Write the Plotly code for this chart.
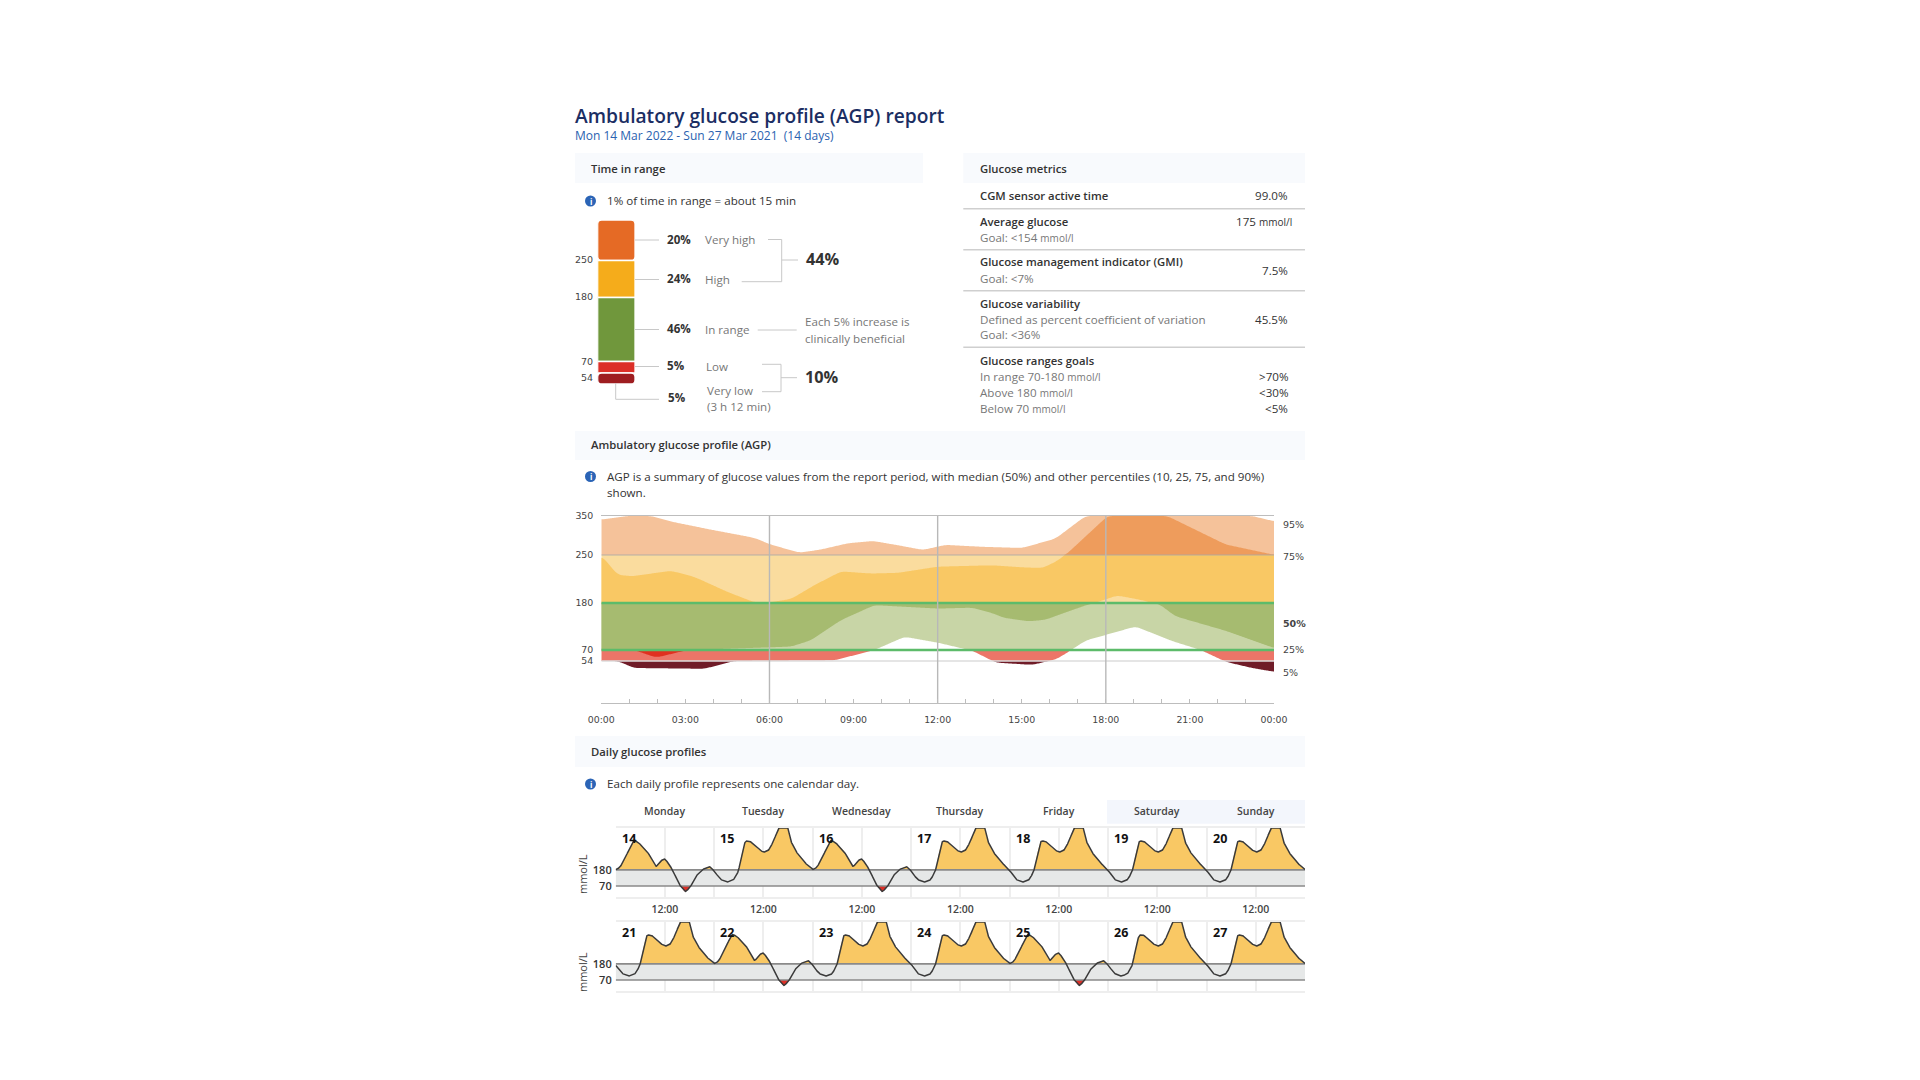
import numpy as np
import plotly.graph_objects as go

FONT = "Open Sans"
AXFONT = "DejaVu Sans"

# ---- AGP percentile curves (hour, units as printed on the axis) ----
P95_H = [0, .9, 1.74, 2.57, 3.88, 5.43, 6, 7.04, 7.8, 8.76, 9.66, 10.55, 11.44, 12.25, 13.56, 14.98, 16.17, 17.24, 23.19, 24]
P95_V = [341, 350, 350, 334, 315, 294, 277, 256, 264, 280, 286, 275, 263, 276, 271, 268, 292, 350, 350, 336]
P75_H = [0, .55, 1.08, 2.45, 3.29, 4.48, 5.43, 6, 6.74, 7.57, 8.52, 9.6, 10.55, 11.98, 13.91, 14.98, 15.7, 16.17, 16.53, 18.03, 20.16, 22.24, 24]
P75_V = [248, 221, 219, 227, 218, 196, 181, 181, 186, 206, 226, 223, 224, 233, 235, 232, 231, 240, 250, 350, 350, 277, 250]
P25_H = [0, 1.14, 1.92, 3.05, 4.95, 6.74, 7.45, 8.52, 9.71, 10.55, 11.98, 13.2, 14.03, 14.27, 15.22, 15.82, 16.53, 17.36, 18.37, 19.15, 19.86, 20.45, 22.24, 24]
P25_V = [70, 70, 59, 70, 74, 78, 93, 140, 175, 172, 167, 169, 154, 146, 137, 141, 158, 177, 191, 185, 178, 149, 115, 74]
P05_H = [0, .55, 1.14, 3.64, 4.71, 8.29, 9.71, 10.79, 11.98, 12.96, 13.2, 14.03, 15.34, 16.17, 16.71, 17.24, 19.03, 20.33, 21.4, 22.24, 23.19, 24]
P05_V = [54, 54, 45, 44, 54, 55, 70, 101, 87, 72, 69, 52, 49, 56, 69, 92, 125, 91, 69, 53, 45, 40]

AGP_Y_TICKS = [350, 250, 180, 70, 54]
AGP_X_LABELS = ["00:00", "03:00", "06:00", "09:00", "12:00", "15:00", "18:00", "21:00", "00:00"]
AGP_PCT_LABELS = ["95%", "75%", "50%", "25%", "5%"]

ZONE_EDGES = [(250, 350), (180, 250), (70, 180), (54, 70), (0, 54)]
ZONE_OUTER = ["#F5C29A", "#FADC9E", "#C8D5A6", "#EC7568", "#701C28"]
ZONE_INNER = ["#EE9C5C", "#F9C864", "#A6BB70", "#E03020", "#701C28"]

# ---- Time in range bar ----
TIR_BOUNDS = [350, 250, 180, 70, 54, 40]
TIR_COLORS = ["#E56A25", "#F5AC1B", "#70973C", "#DC3028", "#9E1D20"]
TIR_PCT = ["20%", "24%", "46%", "5%", "5%"]
TIR_NAME = ["Very high", "High", "In range", "Low"]

# ---- Daily profiles: two repeating day shapes ----
DAY_A_H = [0, 1.06, 2.28, 4.31, 5.53, 7.72, 8.78, 9.84, 10.8, 11.87, 12.85, 14.07, 15.28, 16.91, 18.13, 19.35, 20.98, 22.85, 24]
DAY_A_V = [180, 198, 260, 385, 368, 306, 249, 198, 237, 258, 226, 169, 88, 28, 60, 130, 180, 205, 173]
DAY_B_H = [0, 1.46, 3.09, 4.72, 5.93, 6.75, 7.56, 8.78, 10.4, 12.03, 13.25, 14.47, 15.69, 16.1, 17.72, 18.54, 19.76, 21.79, 24]
DAY_B_V = [173, 116, 95, 111, 169, 294, 378, 376, 329, 300, 313, 375, 470, 500, 500, 386, 313, 237, 180]
ROW1_DAYS = [14, 15, 16, 17, 18, 19, 20]
ROW2_DAYS = [21, 22, 23, 24, 25, 26, 27]
ROW1_SHAPE = "ABABBBB"
ROW2_SHAPE = "BABBABB"
WEEKDAYS = ["Monday", "Tuesday", "Wednesday", "Thursday", "Friday", "Saturday", "Sunday"]
LIMITS = [180, 70]


def px(x): return x / 1920
def py(y): return 1 - y / 1080


def smooth(h, v, grid, win):
    raw = np.interp(grid, h, v)
    n = max(1, int(round(win / (grid[1] - grid[0]))))
    k = np.ones(n) / n
    for _ in range(2):
        raw = np.convolve(np.pad(raw, n, mode="edge"), k, mode="same")[n:-n]
    return raw


def agp_pos(v):
    return np.interp(v, [0, 54, 70, 180, 250, 350], [0, 42, 53, 100, 148, 187])


def tir_pos(v):
    return np.interp(v, [40, 54, 70, 180, 250, 350], [0, 11, 22.5, 86.5, 123.5, 164])


fig = go.Figure()
ann, shapes = [], []


def T(x, y, text, size=11.6, color="#333333", anchor="left", weight=400, family=FONT, angle=0, dy=-.8):
    ann.append(dict(x=px(x), y=py(y + dy), xref="paper", yref="paper", text=text, showarrow=False,
                    xanchor=anchor, yanchor="middle", borderpad=0, borderwidth=0, textangle=angle,
                    font=dict(size=size, color=color, family=family, weight=weight)))


def L(x0, y0, x1, y1, color="#C8C8C8", width=1):
    shapes.append(dict(type="line", xref="paper", yref="paper", x0=px(x0), y0=py(y0), x1=px(x1), y1=py(y1),
                       line=dict(color=color, width=width)))


def panel(x0, y0, x1, y1, color="#F8FAFD"):
    shapes.append(dict(type="rect", xref="paper", yref="paper", x0=px(x0), y0=py(y0), x1=px(x1), y1=py(y1),
                       line=dict(width=0), fillcolor=color, layer="below"))


def info(y):
    shapes.append(dict(type="circle", xref="paper", yref="paper", x0=px(585), x1=px(596), y0=py(y - 5.5), y1=py(y + 5.5),
                       line=dict(width=0), fillcolor="#2B64B6"))
    T(590.5, y, "i", size=8, color="#FFFFFF", anchor="center", weight=700, dy=0)


# ---- AGP areas ----
grid = np.linspace(0, 24, 721)
p95 = np.minimum(smooth(P95_H, P95_V, grid, .25), 350)
p75 = np.minimum(smooth(P75_H, P75_V, grid, .25), 350)
p25 = smooth(P25_H, P25_V, grid, .25)
p05 = smooth(P05_H, P05_V, grid, .25)
for (lo, hi), c in zip(ZONE_EDGES, ZONE_OUTER):
    fig.add_trace(go.Scatter(x=np.r_[grid, grid[::-1]],
                             y=agp_pos(np.r_[np.clip(p95, lo, hi), np.clip(p05, lo, hi)[::-1]]),
                             fill="toself", fillcolor=c, mode="none", xaxis="x", yaxis="y", showlegend=False))
for (lo, hi), c in zip(ZONE_EDGES, ZONE_INNER):
    fig.add_trace(go.Scatter(x=np.r_[grid, grid[::-1]],
                             y=agp_pos(np.r_[np.clip(p75, lo, hi), np.clip(p25, lo, hi)[::-1]]),
                             fill="toself", fillcolor=c, mode="none", xaxis="x", yaxis="y", showlegend=False))
for v, c, w in [(250, "rgba(170,170,170,.55)", 1.5), (54, "#DDDDDD", 1.5), (180, "#5CBB6A", 2.6), (70, "#5CBB6A", 2.6)]:
    fig.add_trace(go.Scatter(x=[0, 24], y=agp_pos([v, v]), mode="lines", line=dict(color=c, width=w),
                             xaxis="x", yaxis="y", showlegend=False))
for h in [6, 12, 18]:
    fig.add_trace(go.Scatter(x=[h, h], y=[0, 187], mode="lines", line=dict(color="#B8B8B8", width=1.4),
                             xaxis="x", yaxis="y", showlegend=False))

# ---- TIR bar ----
for i, c in enumerate(TIR_COLORS):
    top, bot = tir_pos(TIR_BOUNDS[i]), tir_pos(TIR_BOUNDS[i + 1])
    radius = 4 if i in (0, 4) else 0
    if i == 4:
        base, height = top, bot - top
    else:
        base, height = bot, top - bot
    fig.add_trace(go.Bar(x=[0], y=[height], base=[base], width=1, xaxis="x2", yaxis="y2", showlegend=False,
                         marker=dict(color=c, cornerradius=radius, line=dict(color="#FFFFFF", width=1.3))))

# ---- Daily rows ----
for days, shape, xa, ya in [(ROW1_DAYS, ROW1_SHAPE, "x3", "y3"), (ROW2_DAYS, ROW2_SHAPE, "x4", "y4")]:
    hh, vv = [], []
    for i, s in enumerate(shape):
        H, V = (DAY_A_H, DAY_A_V) if s == "A" else (DAY_B_H, DAY_B_V)
        hh += [i * 24 + q for q in H]
        vv += list(V)
    hh, idx = np.unique(hh, return_index=True)
    vv = np.array(vv)[idx]
    g = np.linspace(0, 168, 3361)
    cur = np.minimum(smooth(hh, vv, g, .45), 466)
    fig.add_trace(go.Scatter(x=[0, 168, 168, 0], y=[70, 70, 180, 180], fill="toself", fillcolor="#E6E8E8", mode="none",
                             xaxis=xa, yaxis=ya, showlegend=False))
    fig.add_trace(go.Scatter(x=np.r_[g, g[::-1]], y=np.r_[np.maximum(cur, 180), np.full(g.size, 180)], fill="toself",
                             fillcolor="#F9C864", mode="none", xaxis=xa, yaxis=ya, showlegend=False))
    fig.add_trace(go.Scatter(x=np.r_[g, g[::-1]], y=np.r_[np.minimum(cur, 70), np.full(g.size, 70)], fill="toself",
                             fillcolor="#DC3028", mode="none", xaxis=xa, yaxis=ya, showlegend=False))
    for lim in LIMITS:
        fig.add_trace(go.Scatter(x=[0, 168], y=[lim, lim], mode="lines", line=dict(color="#8A8A8A", width=1.6),
                                 xaxis=xa, yaxis=ya, showlegend=False))
    fig.add_trace(go.Scatter(x=g, y=cur, mode="lines", line=dict(color="#3A3A3A", width=1.5), xaxis=xa, yaxis=ya,
                             showlegend=False))

# ---- Header + TIR text ----
BOLD = 600
BS = 11.3
T(575, 115, "Ambulatory glucose profile (AGP) report", size=19.2, color="#1B2E63", weight=600, dy=0)
T(575, 136.5, "Mon 14 Mar 2022 - Sun 27 Mar 2021  (14 days)", size=12, color="#2A62B0")
panel(575, 153, 923, 183)
T(591, 169, "Time in range", weight=600, size=BS, dy=0)
info(201)
T(607, 201, "1% of time in range = about 15 min")

for y, lab in zip([260, 296, 361, 377], ["250", "180", "70", "54"]):
    T(592.7, y, lab, size=9.5, color="#444444", anchor="right", family=AXFONT, dy=0)

GREY = "#777777"
for y, pct, nm, nx in zip([240, 279.5, 329.5, 366.5], TIR_PCT, TIR_NAME, [705, 705, 705, 705.7]):
    L(635, y, 659, y)
    T(667, y, pct, weight=700)
    T(nx, y + .5, nm, color=GREY)
L(615.7, 383, 615.7, 399.3); L(615.7, 399.3, 659, 399.3)
T(668, 398.3, TIR_PCT[4], weight=700)
T(707, 391, "Very low", color=GREY)
T(707, 407, "(3 h 12 min)", color=GREY)
L(768, 239.5, 781.7, 239.5); L(781.7, 239.5, 781.7, 281.7); L(781.7, 281.7, 741.7, 281.7); L(781.7, 260, 798, 260)
T(806, 260, "44%", size=16.3, weight=700)
L(757.7, 330, 796.7, 330)
T(805, 322.5, "Each 5% increase is", color=GREY)
T(805, 339, "clinically beneficial", color=GREY)
L(762, 364.3, 781, 364.3); L(781, 364.3, 781, 391.7); L(781, 391.7, 762, 391.7); L(781, 377.7, 797, 377.7)
T(805, 377.5, "10%", size=16.3, weight=700)

# ---- Metrics ----
panel(963.3, 153, 1305, 183)
T(980, 169, "Glucose metrics", weight=600, size=BS, dy=0)
UNIT = "<span style='font-size:10px'>mmol/l</span>"
T(980, 196.7, "CGM sensor active time", weight=BOLD, size=BS)
T(1288, 196.7, "99.0%", anchor="right")
T(980, 222, "Average glucose", weight=BOLD, size=BS)
T(1291.7, 222, "175 " + UNIT, anchor="right")
T(980, 238, "Goal: &lt;154 " + UNIT, color=GREY)
T(980, 262.7, "Glucose management indicator (GMI)", weight=BOLD, size=BS)
T(1288, 271, "7.5%", anchor="right")
T(980, 279, "Goal: &lt;7%", color=GREY)
T(980, 304, "Glucose variability", weight=BOLD, size=BS)
T(980, 320, "Defined as percent coefficient of variation", color=GREY)
T(1288, 320, "45.5%", anchor="right")
T(980, 335.5, "Goal: &lt;36%", color=GREY)
T(980, 361, "Glucose ranges goals", weight=BOLD, size=BS)
T(980, 377, "In range 70-180 " + UNIT, color=GREY)
T(1288, 377, "&gt;70%", anchor="right")
T(980, 393, "Above 180 " + UNIT, color=GREY)
T(1288, 393, "&lt;30%", anchor="right")
T(980, 409, "Below 70 " + UNIT, color=GREY)
T(1288, 409, "&lt;5%", anchor="right")
for y in [208.7, 249.7, 290.7, 347.3]:
    L(963.3, y, 1305, y, color="#CFCFCF", width=1.4)

# ---- AGP text ----
panel(575, 431, 1305, 460)
T(591, 445, "Ambulatory glucose profile (AGP)", weight=600, size=BS, dy=0)
info(476.5)
T(607, 476.5, "AGP is a summary of glucose values from the report period, with median (50%) and other percentiles (10, 25, 75, and 90%)", dy=0)
T(607, 492.5, "shown.", dy=0)
for y, lab in zip([524, 556, 623, 649, 672], AGP_PCT_LABELS):
    T(1283, y, lab, size=9.5, color="#444444", family=AXFONT, weight=700 if lab == "50%" else 400, dy=0)

# ---- Daily text ----
panel(575, 736, 1305, 767)
T(591, 752, "Daily glucose profiles", weight=600, size=BS)
info(784)
T(607, 784, "Each daily profile represents one calendar day.")
panel(1107, 800, 1305, 823.7, color="#F3F6FC")
CELL = (1305 - 615.7) / 7
for i, d in enumerate(WEEKDAYS):
    T(615.7 + CELL * (i + .5), 811, d, size=10.5, color="#444444", anchor="center", weight=600, dy=0)
for days, y in [(ROW1_DAYS, 838.7), (ROW2_DAYS, 932.7)]:
    for i, d in enumerate(days):
        T(621.7 + CELL * i, y, str(d), size=12.5, color="#111111", weight=700, dy=0)
T(582, 874, "mmol/L", size=11, color="#444444", anchor="center", angle=-90, dy=0)
T(582, 972, "mmol/L", size=11, color="#444444", anchor="center", angle=-90, dy=0)

# ---- Axes ----
def dom(a, b, size):
    return [a / size, b / size]


def ydom(top, bottom):
    return [1 - bottom / 1080, 1 - top / 1080]


axis_font = dict(family=AXFONT, size=9.4, color="#444444")
hour_labels = [AGP_X_LABELS[h // 3] if h % 3 == 0 else "" for h in range(25)]
row_vals = list(range(0, 169, 12))
row1_text = ["12:00" if v % 24 == 12 else "" for v in row_vals]
row_common = dict(range=[0, 168], tickvals=row_vals, showgrid=True, gridcolor="#EEEEEE", gridwidth=1.6, ticks="",
                  showline=True, linecolor="#EEEEEE", linewidth=1.6, mirror=True, zeroline=False, fixedrange=True,
                  domain=dom(615.7, 1305, 1920), automargin=False)
y_common = dict(range=[-3.6, 468.75], tickvals=[180, 70], showgrid=False, zeroline=False, ticks="", automargin=False,
                tickfont=dict(family=FONT, size=11, color="#333333", weight=600), ticklabelstandoff=3)

fig.update_layout(
    template="none",
    width=1920, height=1080, autosize=False, margin=dict(l=0, r=0, t=0, b=0, pad=0),
    paper_bgcolor="#FFFFFF", plot_bgcolor="#FFFFFF", barmode="overlay", showlegend=False,
    annotations=ann, shapes=shapes,
    xaxis=dict(domain=dom(601.3, 1274, 1920), range=[0, 24], tickvals=list(range(25)), ticktext=hour_labels,
               ticks="inside", ticklen=4, tickcolor="#BDBDBD", tickfont=axis_font, showgrid=False, zeroline=False,
               showline=True, linecolor="#BDBDBD", linewidth=1.4, mirror=True, ticklabelstandoff=8, automargin=False),
    yaxis=dict(domain=ydom(516, 703), range=[0, 187], tickvals=[float(agp_pos(v)) for v in AGP_Y_TICKS],
               ticktext=[str(v) for v in AGP_Y_TICKS], ticks="", tickfont=axis_font, showgrid=False, zeroline=False,
               ticklabelstandoff=7, automargin=False),
    xaxis2=dict(domain=dom(597.7, 635, 1920), range=[-.5, .5], visible=False, automargin=False, anchor="y2"),
    yaxis2=dict(domain=ydom(220, 384), range=[0, 164], visible=False, automargin=False, anchor="x2"),
    xaxis3=dict(ticktext=row1_text, tickfont=dict(family=FONT, size=10.5, color="#444444", weight=600),
                ticklabelstandoff=2, anchor="y3", **row_common),
    yaxis3=dict(domain=ydom(827.7, 896.7), anchor="x3", **y_common),
    xaxis4=dict(ticktext=[""] * len(row_vals), anchor="y4", **row_common),
    yaxis4=dict(domain=ydom(921.7, 990.7), anchor="x4", **y_common),
)

fig.write_html("out.html", config={"displayModeBar": False},
               post_script="document.body.style.margin='0';document.body.style.overflow='hidden';")
